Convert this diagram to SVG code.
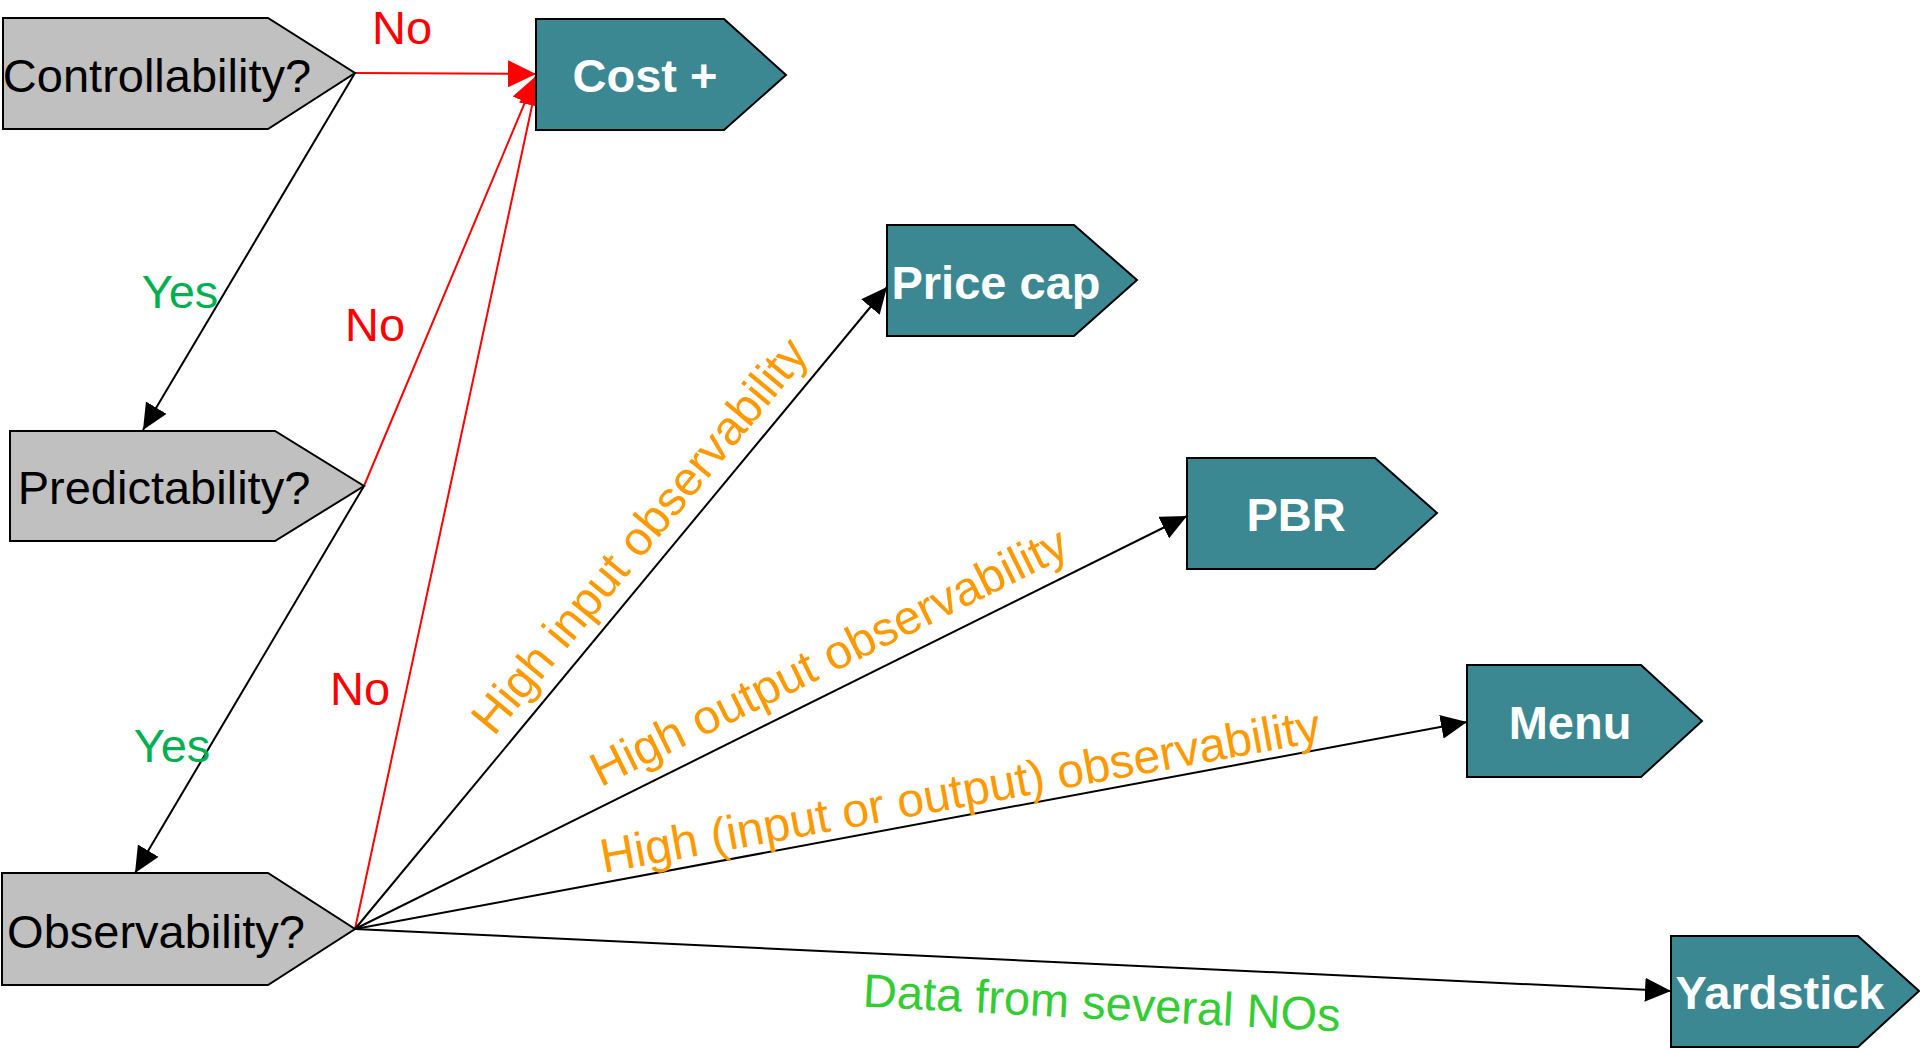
<svg xmlns="http://www.w3.org/2000/svg" width="1920" height="1052" viewBox="0 0 1920 1052">
<style>
text{font-family:"Liberation Sans",Arial,Helvetica,sans-serif;font-size:47px}
.q{fill:#C0C0C0;stroke:#000;stroke-width:2}
.r{fill:#3B8893;stroke:#000;stroke-width:2}
.qt{fill:#000;text-anchor:middle}
.rt{fill:#fff;font-weight:bold;text-anchor:middle}
.lr{stroke:#FF0000;stroke-width:2;fill:none;marker-end:url(#ar)}
.lb{stroke:#000;stroke-width:2;fill:none;marker-end:url(#ab)}
.no{fill:#FF0000;text-anchor:middle}
.yes{fill:#00B050;text-anchor:middle}
.or{fill:#FF9900;text-anchor:middle;font-size:48px}
.dg{fill:#33CC33;text-anchor:middle}
</style>
<defs>
<marker id="ab" markerUnits="userSpaceOnUse" markerWidth="26" markerHeight="24" viewBox="0 0 26 24" refX="26" refY="12" orient="auto"><path d="M0,0 L26,12 L0,24 z" fill="#000"/></marker>
<marker id="ar" markerUnits="userSpaceOnUse" markerWidth="28" markerHeight="27" viewBox="0 0 28 27" refX="28" refY="13.5" orient="auto"><path d="M0,0 L28,13.5 L0,27 z" fill="#FF0000"/></marker>
</defs>
<rect width="1920" height="1052" fill="#fff"/>
<g id="connectors">
<line class="lr" x1="355" y1="73" x2="536" y2="74"/>
<line class="lb" x1="355" y1="73" x2="143" y2="430"/>
<line class="lr" x1="364" y1="486" x2="536" y2="76"/>
<line class="lb" x1="364" y1="486" x2="135" y2="873"/>
<line class="lr" x1="355" y1="929" x2="538" y2="78"/>
<line class="lb" x1="355" y1="929" x2="887" y2="287"/>
<line class="lb" x1="355" y1="929" x2="1187" y2="516"/>
<line class="lb" x1="355" y1="929" x2="1467" y2="722"/>
<line class="lb" x1="355" y1="929" x2="1671" y2="991"/>
<text class="no" x="402" y="44">No</text>
<text class="yes" x="180" y="308">Yes</text>
<text class="no" x="375" y="341">No</text>
<text class="yes" x="172" y="762">Yes</text>
<text class="no" x="360" y="705">No</text>
<text class="or" x="652" y="546" transform="rotate(-50.4 652 546)">High input observability</text>
<text class="or" x="836" y="671" transform="rotate(-26.3 836 671)">High output observability</text>
<text class="or" x="963" y="807" transform="rotate(-10.4 963 807)">High (input or output) observability</text>
<text class="dg" x="1101" y="1019" transform="rotate(3 1101 1019)">Data from several NOs</text>
</g>
<g id="controllability">
<polygon class="q" points="3,18 268,18 355,73 268,129 3,129"/>
<text class="qt" x="157" y="92">Controllability?</text>
</g>
<g id="predictability">
<polygon class="q" points="10,431 275,431 364,486 275,541 10,541"/>
<text class="qt" x="164" y="504">Predictability?</text>
</g>
<g id="observability">
<polygon class="q" points="2,873 268,873 355,929 268,985 2,985"/>
<text class="qt" x="156" y="948">Observability?</text>
</g>
<g id="cost-plus">
<polygon class="r" points="536,19 724,19 786,75 724,130 536,130"/>
<text class="rt" x="645" y="92">Cost +</text>
</g>
<g id="price-cap">
<polygon class="r" points="887,225 1074,225 1137,280 1074,336 887,336"/>
<text class="rt" x="996" y="299">Price cap</text>
</g>
<g id="pbr">
<polygon class="r" points="1187,458 1375,458 1437,513 1375,569 1187,569"/>
<text class="rt" x="1296" y="531">PBR</text>
</g>
<g id="menu">
<polygon class="r" points="1467,665 1641,665 1702,721 1641,777 1467,777"/>
<text class="rt" x="1570" y="739">Menu</text>
</g>
<g id="yardstick">
<polygon class="r" points="1671,936 1858,936 1919,991 1858,1047 1671,1047"/>
<text class="rt" x="1780" y="1009">Yardstick</text>
</g>
</svg>
